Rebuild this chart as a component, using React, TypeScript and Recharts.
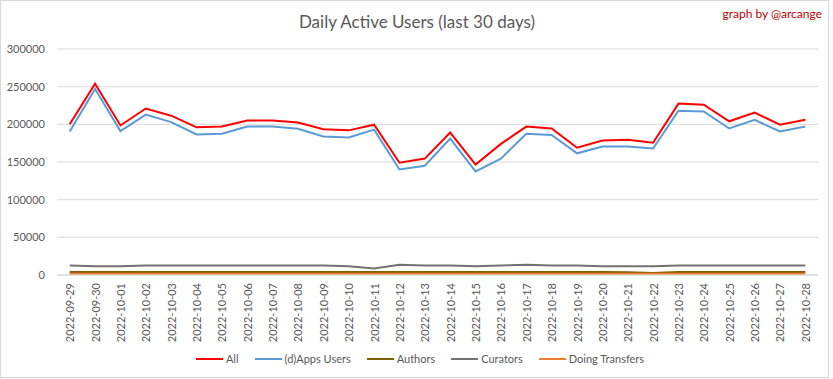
import React from 'react';
import { LineChart, Line, XAxis, YAxis, CartesianGrid } from 'recharts';

const dates = [
  '2022-09-29','2022-09-30','2022-10-01','2022-10-02','2022-10-03','2022-10-04','2022-10-05','2022-10-06','2022-10-07','2022-10-08',
  '2022-10-09','2022-10-10','2022-10-11','2022-10-12','2022-10-13','2022-10-14','2022-10-15','2022-10-16','2022-10-17','2022-10-18',
  '2022-10-19','2022-10-20','2022-10-21','2022-10-22','2022-10-23','2022-10-24','2022-10-25','2022-10-26','2022-10-27','2022-10-28',
];
const allUsers = [
  200000, 254000, 198500, 221000, 211500, 196000, 197000, 205000, 205000, 202500,
  193500, 192000, 199500, 149000, 154500, 189000, 146500, 174000, 197000, 194500,
  169000, 178500, 179500, 175500, 227500, 226000, 204000, 215500, 199500, 206000,
];
const appsUsers = [
  190500, 247000, 191000, 213000, 203000, 186500, 187500, 197000, 197000, 194000,
  184000, 182500, 193000, 140000, 145000, 181000, 137500, 154500, 187500, 186000,
  161500, 170500, 170500, 168000, 218000, 217000, 194500, 206000, 190500, 197000,
];
const authors = [
  4000, 4000, 4000, 4000, 4000, 4000, 4000, 4000, 4000, 4000,
  4000, 4000, 4000, 4000, 4000, 4000, 4000, 4000, 4000, 4000,
  4000, 4000, 3500, 2500, 4000, 4000, 4000, 4000, 4000, 4000,
];
const curators = [
  12500, 11500, 11500, 12500, 12500, 12500, 12500, 12500, 12500, 12500,
  12500, 11500, 8500, 13500, 12500, 12500, 11500, 12500, 13500, 12500,
  12500, 11500, 11500, 11500, 12500, 12500, 12500, 12500, 12500, 12500,
];
const transfers = [
  1600, 1600, 1600, 1600, 1600, 1600, 1600, 1600, 1600, 1600,
  1600, 1600, 1600, 1600, 1600, 1600, 1600, 1600, 1600, 1600,
  1600, 1600, 1600, 1600, 1600, 1600, 1600, 1600, 1600, 1600,
];
const yTicks = [0, 50000, 100000, 150000, 200000, 250000, 300000];

const seriesInfo = [
  { key: 'all', name: 'All', color: '#FF0000' },
  { key: 'apps', name: '(d)Apps Users', color: '#5B9BD5' },
  { key: 'authors', name: 'Authors', color: '#7F6000' },
  { key: 'curators', name: 'Curators', color: '#767171' },
  { key: 'transfers', name: 'Doing Transfers', color: '#ED7D31' },
];

const data = dates.map((d, i) => ({
  date: d,
  all: allUsers[i],
  apps: appsUsers[i],
  authors: authors[i],
  curators: curators[i],
  transfers: transfers[i],
}));

const FONT = "Lato, 'Liberation Sans', Arial, sans-serif";

const XTick = (props: any) => {
  const { x, payload } = props;
  return (
    <g transform={`translate(${x},283)`}>
      <text transform="rotate(-90)" textAnchor="end" dominantBaseline="central" fill="#595959" fontSize={11} fontFamily={FONT}>
        {payload.value}
      </text>
    </g>
  );
};

export default function App() {
  return (
    <div style={{ position: 'absolute', left: 0, top: 0, width: 829, height: 378, background: '#fff' }}>
      <div style={{ position: 'absolute', left: 0, top: 0, width: 829, height: 378, border: '1px solid #D9D9D9', boxSizing: 'border-box', pointerEvents: 'none' }} />
      <div style={{ position: 'absolute', left: 0, top: 11, width: 834, textAlign: 'center', fontFamily: FONT, fontSize: 17, lineHeight: '22px', color: '#595959' }}>
        Daily Active Users (last 30 days)
      </div>
      <div style={{ position: 'absolute', right: 7, top: 6, fontFamily: FONT, fontSize: 12, lineHeight: '16px', color: '#C00000' }}>
        graph by @arcange
      </div>
      <LineChart width={829} height={378} data={data} margin={{ top: 49, right: 11, left: 0, bottom: 0 }}>
        <CartesianGrid vertical={false} stroke="#D9D9D9" />
        <XAxis dataKey="date" interval={0} height={103} tick={<XTick />} tickLine={false} axisLine={{ stroke: '#D9D9D9' }} padding={{ left: 12.7, right: 12.7 }} />
        <YAxis width={57} domain={[0, 300000]} ticks={yTicks} axisLine={false} tickLine={false} tickSize={6} tickMargin={6}
          tick={{ fill: '#595959', fontSize: 11, fontFamily: FONT }} />
        {seriesInfo.map((s) => (
          <Line key={s.key} dataKey={s.key} name={s.name} stroke={s.color} strokeWidth={2} dot={false} isAnimationActive={false} />
        ))}
      </LineChart>
      <div style={{ position: 'absolute', left: 9, top: 351, width: 838, display: 'flex', justifyContent: 'center', alignItems: 'center', fontFamily: FONT, fontSize: 11, lineHeight: '16px', color: '#595959' }}>
        {seriesInfo.map((s) => (
          <div key={s.key} style={{ display: 'flex', alignItems: 'center', marginRight: 16 }}>
            <div style={{ width: 27, height: 2, background: s.color, marginRight: 3 }} />
            <span>{s.name}</span>
          </div>
        ))}
      </div>
    </div>
  );
}
